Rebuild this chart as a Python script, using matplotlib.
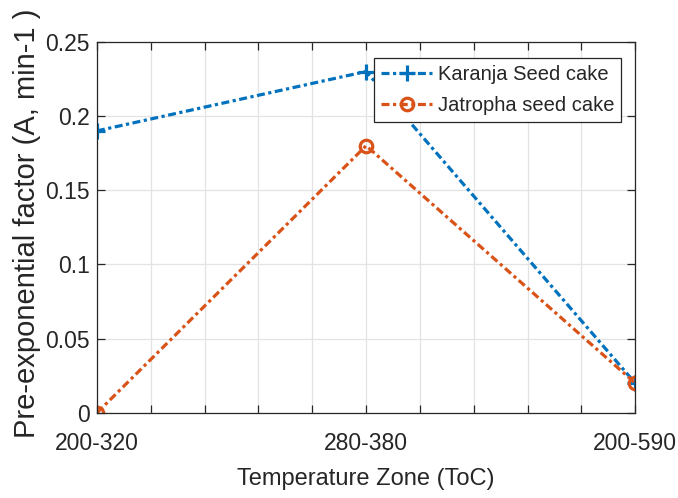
import numpy as np
import matplotlib
matplotlib.use('Agg')
from matplotlib import pyplot as plt

zones = ['200-320', '280-380', '200-590']
karanja = [0.19, 0.23, 0.02]
jatropha = [0.0, 0.18, 0.02]
yticks = [0, 0.05, 0.1, 0.15, 0.2, 0.25]
ytick_labels = ['0', '0.05', '0.1', '0.15', '0.2', '0.25']

plt.rcParams['font.family'] = ['Liberation Sans', 'DejaVu Sans']

fig = plt.figure(figsize=(6.78, 4.98), dpi=100)
ax = fig.add_axes([0.143, 0.171, 0.794, 0.745])

dashdot = (0, (2.5, 1.1, 1, 1.1))
x = np.arange(1, len(zones) + 1)
ax.plot(x, karanja, linestyle=dashdot, color='#0072BD', linewidth=2.3,
        marker='+', markersize=11, markeredgewidth=2.3, label='Karanja Seed cake')
ax.plot(x, jatropha, linestyle=dashdot, color='#D95319', linewidth=2.3,
        marker='o', markersize=9, markeredgewidth=2.3, markerfacecolor='none',
        label='Jatropha seed cake')

ax.set_xlim(1, 3)
ax.set_ylim(0, 0.25)
ax.set_xticks(x)
ax.set_xticklabels(zones)
ax.set_xticks(np.arange(1, 3.01, 0.2), minor=True)
ax.set_yticks(yticks)
ax.set_yticklabels(ytick_labels)

ax.grid(True, which='both', color='#e3e3e3', linewidth=0.9)
ax.set_axisbelow(True)
ax.tick_params(which='both', direction='in', top=True, right=True,
               length=6, width=0.9, color='#262626', labelsize=16.5,
               labelcolor='#262626')
ax.tick_params(axis='x', pad=14)
ax.tick_params(axis='y', pad=5)
for s in ax.spines.values():
    s.set_color('#262626')
    s.set_linewidth(0.9)

ax.set_xlabel('Temperature Zone (ToC)', fontsize=17, color='#262626', labelpad=9)
ax.set_ylabel('Pre-exponential factor (A, min-1 )', fontsize=21, color='#262626')
ax.yaxis.set_label_coords(-0.104, 0.51)

leg = ax.legend(loc='upper right', bbox_to_anchor=(0.974, 0.957), fontsize=14.5,
                fancybox=False, framealpha=1, edgecolor='#262626',
                handlelength=2.5, handletextpad=0.3, borderpad=0.35,
                labelspacing=0.62, borderaxespad=0)
leg.get_frame().set_linewidth(0.9)
for t in leg.get_texts():
    t.set_color('#262626')

plt.savefig('out.png', dpi=100)
